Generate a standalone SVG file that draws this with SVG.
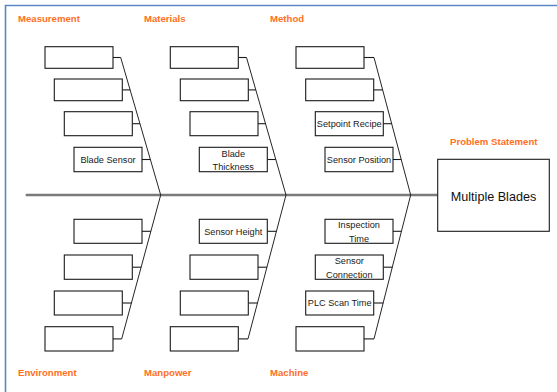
<svg xmlns="http://www.w3.org/2000/svg" width="557" height="392" viewBox="0 0 557 392">
  <style>
    .frame { fill: none; stroke: #5b87c5; stroke-width: 1.6; }
    .cat { font-family: "Liberation Sans", Arial, sans-serif; font-size: 9.6px; font-weight: bold; fill: #ff6f1f; }
    .box { fill: #ffffff; stroke: #1a1a1a; stroke-width: 1.1; }
    .txt { font-family: "Liberation Sans", Arial, sans-serif; font-size: 9.2px; fill: #1a1a1a; text-anchor: middle; }
    .spine { stroke: #7a7a7a; stroke-width: 2.5; fill: none; }
    .bone { stroke: #262626; stroke-width: 1; fill: none; }
    .tick { stroke: #1a1a1a; stroke-width: 1.1; fill: none; }
    .effect { fill: #ffffff; stroke: #1a1a1a; stroke-width: 1.1; }
    .effect-txt { font-family: "Liberation Sans", Arial, sans-serif; font-size: 12.6px; fill: #111111; text-anchor: middle; }
  </style>

  <rect x="0" y="0" width="557" height="392" fill="#ffffff"/>
  <path class="frame" d="M5.5 392 V5.5 H557"/>

  <!-- category headings -->
  <g id="headings">
    <text class="cat" x="18" y="21.5">Measurement</text>
    <text class="cat" x="144" y="21.5">Materials</text>
    <text class="cat" x="270" y="21.5">Method</text>
    <text class="cat" x="18" y="376">Environment</text>
    <text class="cat" x="144" y="376">Manpower</text>
    <text class="cat" x="270" y="376">Machine</text>
    <text class="cat" x="450" y="144.5">Problem Statement</text>
  </g>

  <!-- spine, branch bones and ticks -->
  <g id="connectors">
    <line class="spine" x1="25.7" y1="195" x2="437.7" y2="195"/>

    <polyline class="bone" points="120.7,57.5 160.7,195 121.7,338.9"/>
    <polyline class="bone" points="246.5,57.5 286,195 248,338.9"/>
    <polyline class="bone" points="374,57.5 410.7,195 374,338.9"/>

    <!-- Measurement ticks -->
    <line class="tick" x1="113" y1="57.5" x2="120.7" y2="57.5"/>
    <line class="tick" x1="122.3" y1="89.9" x2="130.1" y2="89.9"/>
    <line class="tick" x1="132.3" y1="123.7" x2="140" y2="123.7"/>
    <line class="tick" x1="142" y1="159.5" x2="150.4" y2="159.5"/>
    <!-- Materials ticks -->
    <line class="tick" x1="238.3" y1="57.5" x2="246.5" y2="57.5"/>
    <line class="tick" x1="248.3" y1="89.9" x2="255.8" y2="89.9"/>
    <line class="tick" x1="258" y1="123.7" x2="265.5" y2="123.7"/>
    <line class="tick" x1="267.3" y1="159.5" x2="275.8" y2="159.5"/>
    <!-- Method ticks -->
    <line class="tick" x1="364" y1="57.5" x2="374" y2="57.5"/>
    <line class="tick" x1="373.7" y1="89.9" x2="382.6" y2="89.9"/>
    <line class="tick" x1="383.3" y1="123.7" x2="391.7" y2="123.7"/>
    <line class="tick" x1="393" y1="159.5" x2="401.2" y2="159.5"/>
    <!-- Environment ticks -->
    <line class="tick" x1="142" y1="231.3" x2="150.9" y2="231.3"/>
    <line class="tick" x1="132.3" y1="267.2" x2="141.2" y2="267.2"/>
    <line class="tick" x1="122.3" y1="303" x2="131.5" y2="303"/>
    <line class="tick" x1="113" y1="338.9" x2="121.7" y2="338.9"/>
    <!-- Manpower ticks -->
    <line class="tick" x1="267.3" y1="231.3" x2="276.4" y2="231.3"/>
    <line class="tick" x1="258" y1="267.2" x2="267" y2="267.2"/>
    <line class="tick" x1="248.3" y1="303" x2="257.5" y2="303"/>
    <line class="tick" x1="238.3" y1="338.9" x2="248" y2="338.9"/>
    <!-- Machine ticks -->
    <line class="tick" x1="393" y1="231.3" x2="401.4" y2="231.3"/>
    <line class="tick" x1="383.3" y1="267.2" x2="392.3" y2="267.2"/>
    <line class="tick" x1="373.7" y1="303" x2="383.2" y2="303"/>
    <line class="tick" x1="364" y1="338.9" x2="374" y2="338.9"/>
  </g>

  <!-- Measurement causes -->
  <g id="measurement-1"><rect class="box" x="45" y="46.7" width="68" height="21.6"/></g>
  <g id="measurement-2"><rect class="box" x="54.3" y="79" width="68" height="21.7"/></g>
  <g id="measurement-3"><rect class="box" x="64.3" y="111.7" width="68" height="24"/></g>
  <g id="measurement-4">
    <rect class="box" x="74" y="147.3" width="68" height="24.4"/>
    <text class="txt" x="108" y="162.8">Blade Sensor</text>
  </g>

  <!-- Materials causes -->
  <g id="materials-1"><rect class="box" x="170.3" y="46.7" width="68" height="21.6"/></g>
  <g id="materials-2"><rect class="box" x="180.3" y="79" width="68" height="21.7"/></g>
  <g id="materials-3"><rect class="box" x="190" y="111.7" width="68" height="24"/></g>
  <g id="materials-4">
    <rect class="box" x="199.3" y="147.3" width="68" height="24.4"/>
    <text class="txt" x="233.3" y="156.6">Blade</text>
    <text class="txt" x="233.3" y="169.5">Thickness</text>
  </g>

  <!-- Method causes -->
  <g id="method-1"><rect class="box" x="296" y="46.7" width="68" height="21.6"/></g>
  <g id="method-2"><rect class="box" x="305.7" y="79" width="68" height="21.7"/></g>
  <g id="method-3">
    <rect class="box" x="315.3" y="111.7" width="68" height="24"/>
    <text class="txt" x="349.3" y="127">Setpoint Recipe</text>
  </g>
  <g id="method-4">
    <rect class="box" x="325" y="147.3" width="68" height="24.4"/>
    <text class="txt" x="359" y="162.8">Sensor Position</text>
  </g>

  <!-- Environment causes -->
  <g id="environment-1"><rect class="box" x="74" y="219.3" width="68" height="24"/></g>
  <g id="environment-2"><rect class="box" x="64.3" y="255" width="68" height="24.3"/></g>
  <g id="environment-3"><rect class="box" x="54.3" y="291" width="68" height="24"/></g>
  <g id="environment-4"><rect class="box" x="45" y="326.7" width="68" height="24.3"/></g>

  <!-- Manpower causes -->
  <g id="manpower-1">
    <rect class="box" x="199.3" y="219.3" width="68" height="24"/>
    <text class="txt" x="233.3" y="234.6">Sensor Height</text>
  </g>
  <g id="manpower-2"><rect class="box" x="190" y="255" width="68" height="24.3"/></g>
  <g id="manpower-3"><rect class="box" x="180.3" y="291" width="68" height="24"/></g>
  <g id="manpower-4"><rect class="box" x="170.3" y="326.7" width="68" height="24.3"/></g>

  <!-- Machine causes -->
  <g id="machine-1">
    <rect class="box" x="325" y="219.3" width="68" height="24"/>
    <text class="txt" x="359" y="228.4">Inspection</text>
    <text class="txt" x="359" y="241.6">Time</text>
  </g>
  <g id="machine-2">
    <rect class="box" x="315.3" y="255" width="68" height="24.3"/>
    <text class="txt" x="349.3" y="264">Sensor</text>
    <text class="txt" x="349.3" y="277.5">Connection</text>
  </g>
  <g id="machine-3">
    <rect class="box" x="305.7" y="291" width="68" height="24"/>
    <text class="txt" x="339.7" y="306.3">PLC Scan Time</text>
  </g>
  <g id="machine-4"><rect class="box" x="296" y="326.7" width="68" height="24.3"/></g>

  <!-- effect -->
  <g id="problem">
    <rect class="effect" x="437.7" y="159.3" width="111.6" height="72"/>
    <text class="effect-txt" x="493.5" y="200.5">Multiple Blades</text>
  </g>
</svg>
